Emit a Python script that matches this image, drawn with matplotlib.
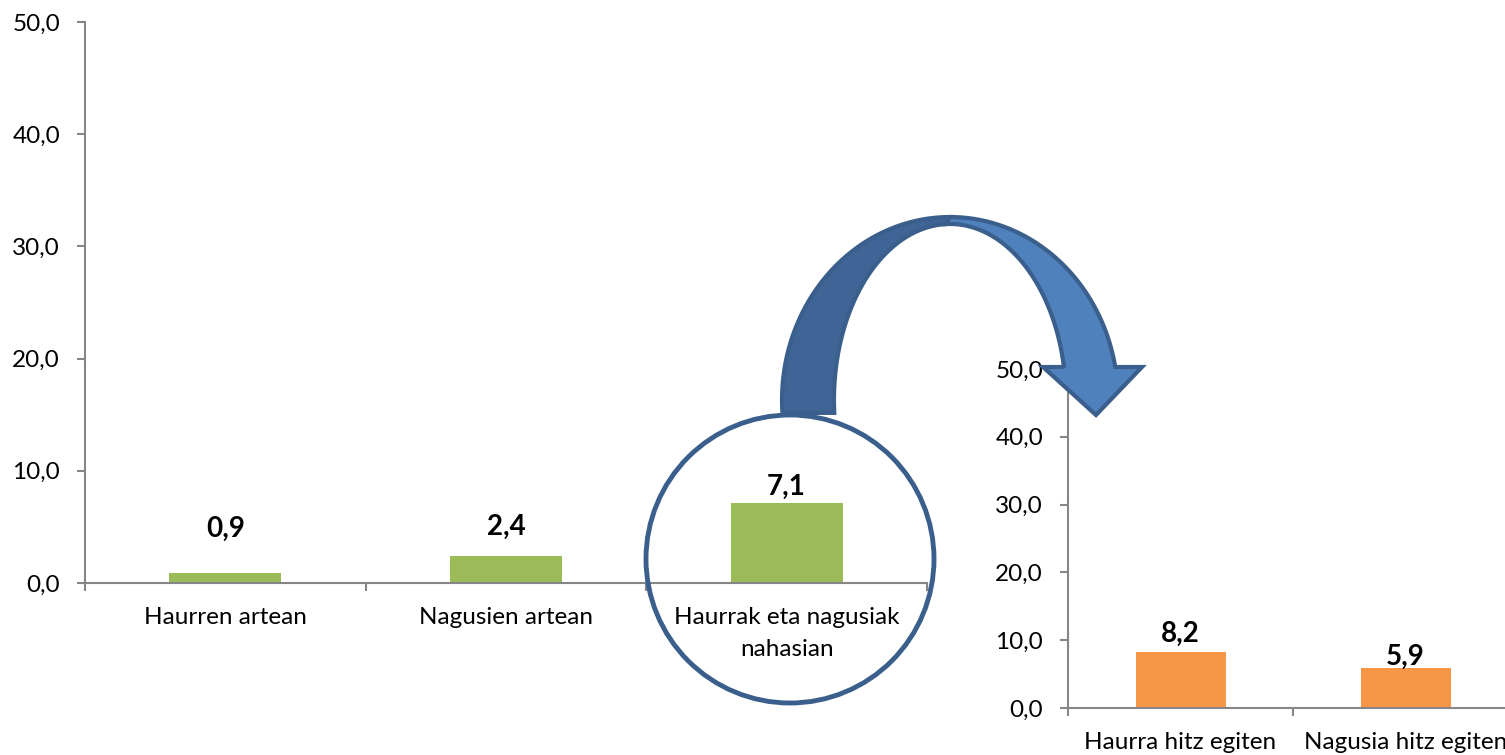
import numpy as np
import matplotlib
matplotlib.use("Agg")
import matplotlib.pyplot as plt
from matplotlib.patches import Polygon, Circle

plt.rcParams['font.family'] = ['Lato', 'DejaVu Sans']

# ---- data ----
left_categories = ["Haurren artean", "Nagusien artean", "Haurrak eta nagusiak\nnahasian"]
left_values = [0.9, 2.4, 7.1]
right_categories = ["Haurra hitz egiten", "Nagusia hitz egiten"]
right_values = [8.2, 5.9]
y_ticks = [0, 10, 20, 30, 40, 50]
y_ticklabels = ["0,0", "10,0", "20,0", "30,0", "40,0", "50,0"]

# label offsets above bar tops (pixels), as placed in the original
left_label_offsets = [44, 29, 16]
right_label_offsets = [19, 11]

W, H = 1505, 755
fig = plt.figure(figsize=(W / 100, H / 100), dpi=100)

GREEN = "#9BBB59"
ORANGE = "#F79646"
SPINE = "#868686"
TICK_FS = 17.5
VAL_FS = 20


def fmt(v):
    return f"{v:.1f}".replace(".", ",")


def style_axes(ax, n, cats):
    for s in ["top", "right"]:
        ax.spines[s].set_visible(False)
    for s in ["left", "bottom"]:
        ax.spines[s].set_color(SPINE)
        ax.spines[s].set_linewidth(1.5)
    ax.set_ylim(0, 50)
    ax.set_yticks(y_ticks)
    ax.set_yticklabels(y_ticklabels, fontsize=TICK_FS)
    ax.tick_params(axis="y", length=6, width=1.5, color=SPINE, pad=12)
    ax.set_xlim(-0.5, n - 0.5)
    ax.set_xticks(np.arange(n + 1) - 0.5)
    ax.set_xticklabels([""] * (n + 1))
    ax.tick_params(axis="x", which="major", length=6, width=1.5, color=SPINE)
    ax.set_xticks(np.arange(n), minor=True)
    ax.set_xticklabels(cats, minor=True)
    ax.tick_params(axis="x", which="minor", length=0, pad=17, labelsize=TICK_FS)
    for lbl in ax.get_xticklabels(minor=True):
        lbl.set_linespacing(1.65)
    ax.patch.set_alpha(0)


def bar_labels(ax, values, offsets):
    for i, (v, off) in enumerate(zip(values, offsets)):
        ax.annotate(fmt(v), (i, v), xytext=(0, off * 0.72), textcoords="offset points",
                    ha="center", va="center", fontsize=VAL_FS, fontweight="bold")


# left chart
axL = fig.add_axes([85 / W, (H - 583) / H, (927 - 85) / W, (583 - 22) / H])
xL = np.arange(len(left_values))
axL.bar(xL, left_values, width=0.4, color=GREEN)
style_axes(axL, len(left_values), left_categories)
bar_labels(axL, left_values, left_label_offsets)

# right chart (clipped at the figure edge as in the original)
axR = fig.add_axes([1068 / W, (H - 708) / H, 450 / W, (708 - 369) / H])
xR = np.arange(len(right_values))
axR.bar(xR, right_values, width=0.4, color=ORANGE)
style_axes(axR, len(right_values), right_categories)
bar_labels(axR, right_values, right_label_offsets)

# overlay in pixel coordinates for the circle and curved arrow
ov = fig.add_axes([0, 0, 1, 1])
ov.set_xlim(0, W)
ov.set_ylim(H, 0)
ov.axis("off")
ov.patch.set_alpha(0)

EDGE = "#3A5F8C"
DARK = "#3F6597"
LIGHT = "#4F81BD"

# curved arrow
cx, cy = 950, 400
ao, bo = 168, 183
ai, bi = 116, 178


def ell(a, b, t):
    t = np.radians(t)
    return np.column_stack([cx + a * np.cos(t), cy - b * np.sin(t)])

t_left_o = 180 + np.degrees(np.arcsin(13 / bo))
t_left_i = 180 + np.degrees(np.arcsin(13 / bi))
t_right_o = np.degrees(np.arcsin(33 / bo))
t_right_i = np.degrees(np.arcsin(33 / bi))

# back (darker) band: left leg up to top
outer_left = ell(ao, bo, np.linspace(t_left_o, 90, 80))
inner_left = ell(ai, bi - 2, np.linspace(92, t_left_i, 80))
back = np.vstack([outer_left, inner_left])
ov.add_patch(Polygon(back, closed=True, facecolor=DARK, edgecolor=EDGE, lw=3, joinstyle="miter"))

# front (lighter) band with arrowhead
outer_right = ell(ao, bo, np.linspace(90, t_right_o, 80))
ore = outer_right[-1]
inner_right = ell(ai, bi - 2, np.linspace(t_right_i, 92, 80))
ire = inner_right[0]
head = np.array([[ore[0], 367], [1142, 367], [1096, 415], [1043, 367], [ire[0], 367]])
front = np.vstack([outer_right, head, inner_right])
ov.add_patch(Polygon(front, closed=True, facecolor=LIGHT, edgecolor=EDGE, lw=3, joinstyle="miter"))

# circle around the third bar
ov.add_patch(Circle((790, 559), 144, facecolor="none", edgecolor=EDGE, lw=3.5))

fig.savefig("out.png", dpi=100)
